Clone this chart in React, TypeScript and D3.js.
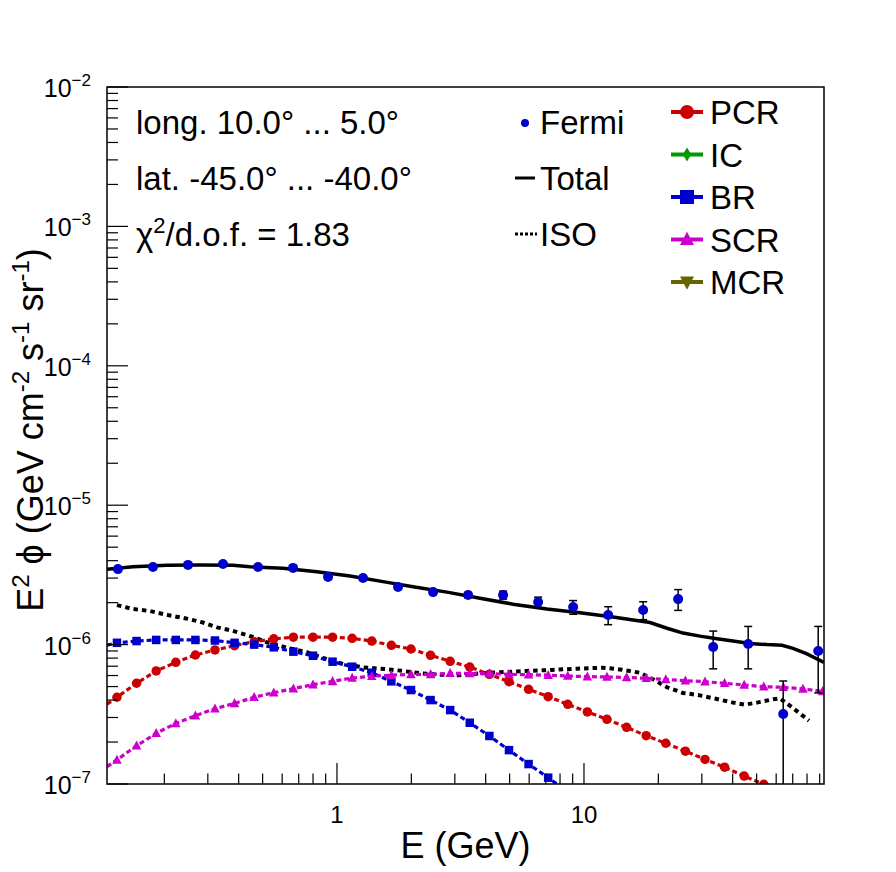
import * as d3 from "d3";

// Canvas and frame (ROOT-like pad)
const W = 896;
const H = 872;
const FRAME = { left: 107, right: 824, top: 87, bottom: 784 };
const FONT = "'Liberation Sans', Arial, Helvetica, sans-serif";

// Fermi data points
const fermiE = [
  0.1298, 0.1799, 0.2494, 0.3456, 0.479, 0.6639, 0.9201, 1.275, 1.767, 2.449, 3.395,
  4.705, 6.521, 9.038, 12.53, 17.36, 24.06, 33.35, 46.22, 64.06, 88.78
];
const fermiFlux = [
  3.48e-6, 3.6e-6, 3.73e-6, 3.79e-6, 3.6e-6, 3.55e-6, 3.06e-6, 3.0e-6, 2.59e-6, 2.38e-6, 2.27e-6,
  2.27e-6, 2.02e-6, 1.86e-6, 1.63e-6, 1.77e-6, 2.12e-6, 9.6e-7, 1.01e-6, 3.18e-7, 9.0e-7
];
const fermiErr = [
  0.07e-6, 0.07e-6, 0.07e-6, 0.07e-6, 0.07e-6, 0.07e-6, 0.07e-6, 0.07e-6, 0.07e-6, 0.08e-6, 0.1e-6,
  0.15e-6, 0.17e-6, 0.21e-6, 0.24e-6, 0.26e-6, 0.36e-6, 0.29e-6, 0.34e-6, 0.23e-6, 0.45e-6
];

// Model components (first point is the frame edge, no marker drawn there)
const modelE = [
  0.1172, 0.1286, 0.1544, 0.1854, 0.2226, 0.2672, 0.3207, 0.3849, 0.4621, 0.5547, 0.6661,
  0.7995, 0.9598, 1.152, 1.383, 1.66, 1.993, 2.393, 2.872, 3.448, 4.14, 4.969, 5.966, 7.161,
  8.597, 10.32, 12.39, 14.88, 17.86, 21.44, 25.74, 30.9, 37.09, 44.52, 53.45, 64.16, 77.02, 92.46
];
const pcrFlux = [
  3.73e-7, 4.19e-7, 5.28e-7, 6.47e-7, 7.46e-7, 8.42e-7, 9.15e-7, 9.82e-7, 1.05e-6, 1.1e-6, 1.13e-6,
  1.13e-6, 1.13e-6, 1.11e-6, 1.06e-6, 9.89e-7, 9.3e-7, 8.38e-7, 7.59e-7, 6.9e-7, 6.12e-7, 5.42e-7,
  4.78e-7, 4.23e-7, 3.73e-7, 3.29e-7, 2.91e-7, 2.55e-7, 2.22e-7, 1.96e-7, 1.72e-7, 1.5e-7, 1.32e-7,
  1.14e-7, 9.95e-8, 8.8e-8, 7.7e-8, 6.7e-8
];
const brFlux: (number | null)[] = [
  9.91e-7, 1.03e-6, 1.06e-6, 1.08e-6, 1.08e-6, 1.08e-6, 1.07e-6, 1.03e-6, 1.0e-6, 9.56e-7, 8.9e-7,
  8.32e-7, 7.54e-7, 6.94e-7, 6.28e-7, 5.45e-7, 4.72e-7, 4.0e-7, 3.39e-7, 2.75e-7, 2.21e-7, 1.75e-7,
  1.39e-7, 1.11e-7, 8.8e-8, 6.8e-8, null, null, null, null, null, null, null, null, null, null, null,
  null
];
const scrFlux = [
  1.33e-7, 1.49e-7, 1.88e-7, 2.31e-7, 2.72e-7, 3.09e-7, 3.47e-7, 3.79e-7, 4.19e-7, 4.52e-7, 4.83e-7,
  5.16e-7, 5.45e-7, 5.76e-7, 5.93e-7, 6.03e-7, 6.12e-7, 6.12e-7, 6.23e-7, 6.2e-7, 6.2e-7, 6.12e-7,
  6.08e-7, 6.03e-7, 5.95e-7, 5.89e-7, 5.86e-7, 5.81e-7, 5.73e-7, 5.63e-7, 5.51e-7, 5.42e-7, 5.28e-7,
  5.13e-7, 4.99e-7, 4.94e-7, 4.81e-7, 4.62e-7
];

// Total model (solid)
const totalE = [
  0.1172, 0.1493, 0.205, 0.2788, 0.3793, 0.4444, 0.6044, 0.8299, 1.129, 1.536, 2.031, 2.788,
  3.793, 5.16, 7.083, 9.634, 13.1, 18.5, 21.68, 25.17, 29.49, 34.56, 40.11, 46.99, 55.07, 63.34,
  70.19, 79.95, 93.7
];
const totalFlux = [
  3.47e-6, 3.62e-6, 3.71e-6, 3.73e-6, 3.71e-6, 3.62e-6, 3.53e-6, 3.33e-6, 3.1e-6, 2.83e-6, 2.6e-6,
  2.38e-6, 2.15e-6, 1.95e-6, 1.8e-6, 1.69e-6, 1.58e-6, 1.44e-6, 1.31e-6, 1.21e-6, 1.15e-6, 1.1e-6,
  1.06e-6, 1.02e-6, 1.0e-6, 9.89e-7, 9.4e-7, 8.57e-7, 7.46e-7
];

// Isotropic (dotted)
const isoE = [
  0.1286, 0.1493, 0.1749, 0.2069, 0.2493, 0.2868, 0.3268, 0.3757, 0.4527, 0.5355, 0.6452, 0.7557,
  0.9111, 1.058, 1.274, 1.564, 1.85, 2.168, 2.612, 3.147, 3.864, 4.571, 5.878, 7.419, 9.369, 11.94,
  14.25, 16.86, 19.03, 21.68, 25.17, 28.94, 34.56, 39.74, 44.86, 50.64, 58.25, 62.16, 65.13, 69.52,
  77.02, 81.45
];
const isoFlux = [
  1.92e-6, 1.8e-6, 1.74e-6, 1.63e-6, 1.53e-6, 1.44e-6, 1.33e-6, 1.26e-6, 1.14e-6, 1.02e-6, 9.4e-7,
  8.81e-7, 7.85e-7, 7.26e-7, 6.87e-7, 6.68e-7, 6.47e-7, 6.23e-7, 6.08e-7, 6.03e-7, 6.23e-7, 6.33e-7,
  6.47e-7, 6.58e-7, 6.72e-7, 6.83e-7, 6.61e-7, 6.28e-7, 5.64e-7, 4.94e-7, 4.5e-7, 4.35e-7, 4.07e-7,
  3.85e-7, 3.71e-7, 3.85e-7, 4.05e-7, 4.12e-7, 3.87e-7, 3.55e-7, 3.08e-7, 2.85e-7
];

const xTickLabels = [1, 10];
const yTickExponents = [-2, -3, -4, -5, -6, -7];

const infoLines = ["long. 10.0° ... 5.0°", "lat. -45.0° ... -40.0°"];
const chiValue = "1.83";

const COLORS = {
  fermi: "#0000cc",
  pcr: "#cc0000",
  ic: "#009900",
  br: "#0000cc",
  scr: "#cc00cc",
  mcr: "#666600"
};

const modelLegend = [
  { label: "PCR", color: COLORS.pcr, shape: "circle" },
  { label: "IC", color: COLORS.ic, shape: "diamond" },
  { label: "BR", color: COLORS.br, shape: "square" },
  { label: "SCR", color: COLORS.scr, shape: "triangle" },
  { label: "MCR", color: COLORS.mcr, shape: "triangleDown" }
];

function Marker({ shape, cx, cy, s, color }: { shape: string; cx: number; cy: number; s: number; color: string }) {
  if (shape === "circle") return <circle cx={cx} cy={cy} r={s / 2} fill={color} />;
  if (shape === "square")
    return <rect x={cx - s / 2} y={cy - s / 2} width={s} height={s} fill={color} />;
  if (shape === "triangle")
    return (
      <polygon
        points={`${cx},${cy - s * 0.55} ${cx - s / 2},${cy + s * 0.4} ${cx + s / 2},${cy + s * 0.4}`}
        fill={color}
      />
    );
  if (shape === "triangleDown")
    return (
      <polygon
        points={`${cx},${cy + s * 0.55} ${cx - s / 2},${cy - s * 0.4} ${cx + s / 2},${cy - s * 0.4}`}
        fill={color}
      />
    );
  return (
    <polygon
      points={`${cx},${cy - s / 2} ${cx + s * 0.3},${cy} ${cx},${cy + s / 2} ${cx - s * 0.3},${cy}`}
      fill={color}
    />
  );
}

export default function App() {
  const x = d3.scaleLog().domain([0.1172, 93.7]).range([FRAME.left, FRAME.right]);
  const y = d3.scaleLog().domain([1e-7, 1e-2]).range([FRAME.bottom, FRAME.top]);

  const line = d3
    .line<[number, number | null]>()
    .defined((d) => d[1] != null)
    .x((d) => x(d[0]))
    .y((d) => y(d[1] as number));

  const zip = (es: number[], vs: (number | null)[]) => es.map((e, i) => [e, vs[i]] as [number, number | null]);

  const isMajor = (v: number) => Math.abs(Math.log10(v) - Math.round(Math.log10(v))) < 1e-6;
  const xTicks = x.ticks();
  const yTicks = y.ticks();

  const components = [
    { flux: pcrFlux, color: COLORS.pcr, shape: "circle", s: 9.5 },
    { flux: brFlux, color: COLORS.br, shape: "square", s: 8.5 },
    { flux: scrFlux, color: COLORS.scr, shape: "triangle", s: 9.5 }
  ];

  const yMid = 430;
  const xMid = (FRAME.left + FRAME.right) / 2;

  return (
    <div style={{ position: "absolute", left: 0, top: 0, background: "#fff" }}>
      <svg width={W} height={H} style={{ display: "block", fontFamily: FONT }}>
        <rect width={W} height={H} fill="#fff" />
        <defs>
          <clipPath id="frameClip">
            <rect
              x={FRAME.left}
              y={FRAME.top}
              width={FRAME.right - FRAME.left}
              height={FRAME.bottom - FRAME.top}
            />
          </clipPath>
        </defs>

        <g clipPath="url(#frameClip)">
          {/* Total and isotropic */}
          <path d={line(zip(totalE, totalFlux)) || ""} fill="none" stroke="#000" strokeWidth={3.5} />
          <path
            d={line(zip(isoE, isoFlux)) || ""}
            fill="none"
            stroke="#000"
            strokeWidth={4}
            strokeDasharray="4.5 4"
          />

          {/* Components */}
          {components.map((c, ci) => (
            <g key={ci}>
              <path
                d={line(zip(modelE, c.flux)) || ""}
                fill="none"
                stroke={c.color}
                strokeWidth={3.2}
                strokeDasharray="5 3"
              />
              {modelE.map((e, i) =>
                i === 0 || c.flux[i] == null ? null : (
                  <Marker key={i} shape={c.shape} cx={x(e)} cy={y(c.flux[i] as number)} s={c.s} color={c.color} />
                )
              )}
            </g>
          ))}

          {/* Fermi points with error bars */}
          {fermiE.map((e, i) => {
            const cx = x(e);
            const hi = y(fermiFlux[i] + fermiErr[i]);
            const loV = fermiFlux[i] - fermiErr[i];
            const lo = loV > 0 ? y(loV) : FRAME.bottom + 20;
            return (
              <g key={i} stroke="#000" strokeWidth={1.5}>
                <line x1={cx} x2={cx} y1={hi} y2={lo} />
                <line x1={cx - 4} x2={cx + 4} y1={hi} y2={hi} />
                <line x1={cx - 4} x2={cx + 4} y1={lo} y2={lo} />
              </g>
            );
          })}
          {fermiE.map((e, i) => (
            <circle key={i} cx={x(e)} cy={y(fermiFlux[i])} r={5} fill={COLORS.fermi} />
          ))}
        </g>

        {/* Frame */}
        <rect
          x={FRAME.left}
          y={FRAME.top}
          width={FRAME.right - FRAME.left}
          height={FRAME.bottom - FRAME.top}
          fill="none"
          stroke="#000"
          strokeWidth={1.5}
        />

        {/* X ticks */}
        {xTicks.map((t, i) => (
          <line
            key={i}
            x1={x(t)}
            x2={x(t)}
            y1={FRAME.bottom}
            y2={FRAME.bottom - (isMajor(t) ? 21 : 10.5)}
            stroke="#000"
            strokeWidth={1.2}
          />
        ))}
        {xTickLabels.map((t) => (
          <text key={t} x={x(t)} y={823} textAnchor="middle" fontSize={24}>
            {t}
          </text>
        ))}

        {/* Y ticks */}
        {yTicks.map((t, i) => (
          <line
            key={i}
            x1={FRAME.left}
            x2={FRAME.left + (isMajor(t) ? 21 : 11)}
            y1={y(t)}
            y2={y(t)}
            stroke="#000"
            strokeWidth={1.2}
          />
        ))}
        {yTickExponents.map((p) => (
          <text key={p} x={91} y={y(Math.pow(10, p)) + 10} textAnchor="end" fontSize={25}>
            10
            <tspan dy={-11} fontSize={17}>
              {"\u2212" + Math.abs(p)}
            </tspan>
          </text>
        ))}

        {/* Axis titles */}
        <text x={xMid} y={858} textAnchor="middle" fontSize={36}>
          E (GeV)
        </text>
        <text transform={`translate(43,${yMid}) rotate(-90)`} textAnchor="middle" fontSize={36}>
          E<tspan dy={-14} fontSize={24}>2</tspan>
          <tspan dy={14}> ϕ (GeV cm</tspan>
          <tspan dy={-14} fontSize={24}>-2</tspan>
          <tspan dy={14}> s</tspan>
          <tspan dy={-14} fontSize={24}>-1</tspan>
          <tspan dy={14}> sr</tspan>
          <tspan dy={-14} fontSize={24}>-1</tspan>
          <tspan dy={14}>)</tspan>
        </text>

        {/* Info text */}
        {infoLines.map((t, i) => (
          <text key={i} x={136} y={134 + i * 56} fontSize={33}>
            {t}
          </text>
        ))}
        <text x={136} y={246} fontSize={33}>
          χ<tspan dy={-13} fontSize={22}>2</tspan>
          <tspan dy={13}>/d.o.f. = {chiValue}</tspan>
        </text>

        {/* Legend: data / total / iso */}
        <circle cx={525} cy={123} r={4} fill={COLORS.fermi} />
        <text x={540} y={134} fontSize={33}>
          Fermi
        </text>
        <line x1={515} x2={535} y1={178} y2={178} stroke="#000" strokeWidth={3} />
        <text x={540} y={190} fontSize={33}>
          Total
        </text>
        <line x1={515} x2={537} y1={234} y2={234} stroke="#000" strokeWidth={3} strokeDasharray="3 2" />
        <text x={540} y={246} fontSize={33}>
          ISO
        </text>

        {/* Legend: components */}
        {modelLegend.map((m, i) => {
          const cy = 112 + i * 42.5;
          return (
            <g key={m.label}>
              <line x1={671} x2={703} y1={cy} y2={cy} stroke={m.color} strokeWidth={4} />
              <Marker shape={m.shape} cx={687} cy={cy} s={14} color={m.color} />
              <text x={710} y={cy + 12} fontSize={33}>
                {m.label}
              </text>
            </g>
          );
        })}
      </svg>
    </div>
  );
}
